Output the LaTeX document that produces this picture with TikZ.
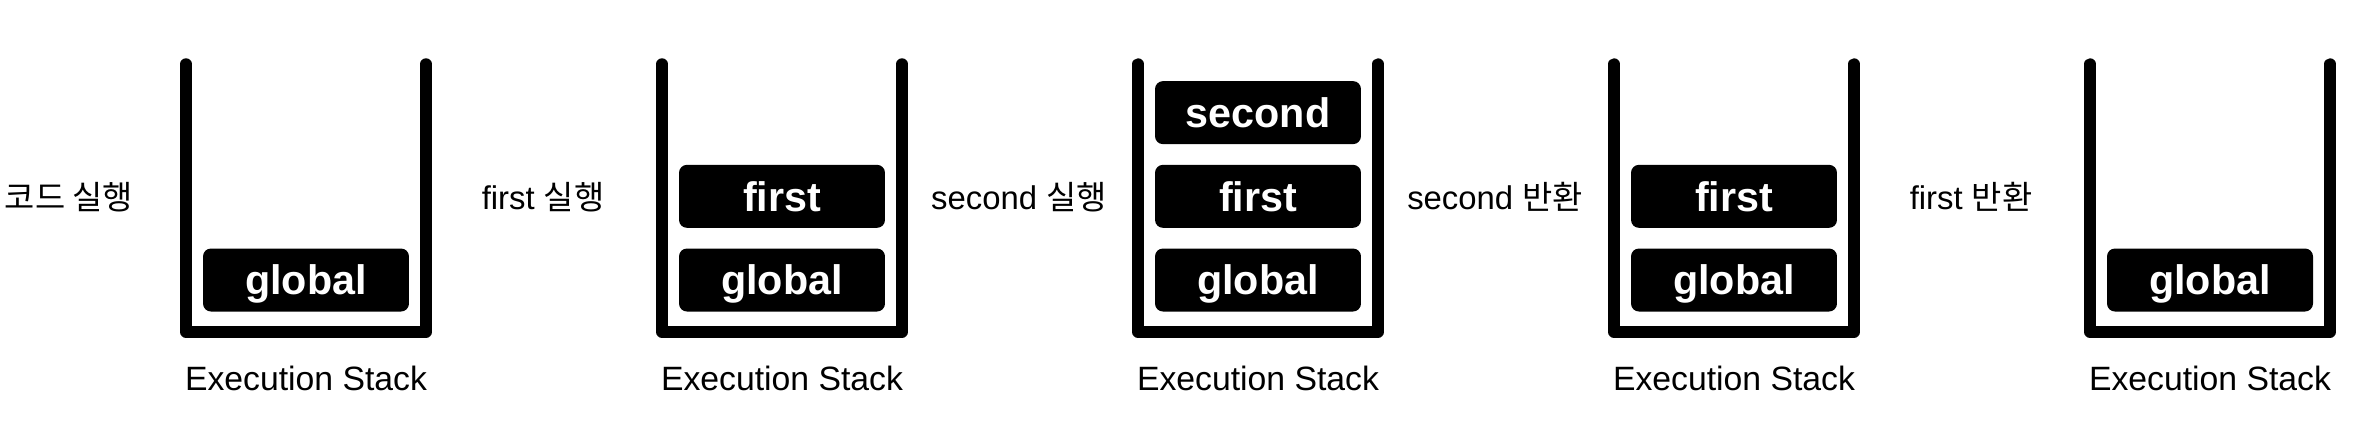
\documentclass[tikz,border=0pt]{standalone}
\usepackage{fontspec}
\setmainfont{Liberation Sans}
\newfontfamily\kr{Noto Sans CJK KR}
\usetikzlibrary{positioning}
\tikzset{
  stackframe/.style={draw=black, line width=6.5pt, line cap=round, line join=round},
  ctxbox/.style={
    fill=black, text=white, rounded corners=4.5pt,
    minimum width=4.12cm, minimum height=1.26cm, inner sep=0pt,
    text height=16.8pt, text depth=0pt,
    font=\fontsize{23.5}{26}\selectfont\bfseries
  },
  stackcaption/.style={font=\fontsize{19.2}{22}\selectfont},
  steplabel/.style={font=\fontsize{18.7}{22}\selectfont}
}

\begin{document}
\begin{tikzpicture}[x=0.02cm,y=-0.02cm]
  \useasboundingbox (0,0) rectangle (2374,424);
  % stack frames and captions
  \foreach \s/\cx in {1/306,2/782,3/1258,4/1734,5/2210}{
    \draw[stackframe] (\cx-120,64) -- (\cx-120,332) -- (\cx+120,332) -- (\cx+120,64);
    \node[stackcaption] (cap\s) at (\cx,378) {Execution Stack};
  }
  % contexts
  \node[ctxbox] (glob1) at (306,280) {global};
  \node[ctxbox] (glob2) at (782,280) {global};
  \node[ctxbox, above=0.4cm of glob2] (first2) {first};
  \node[ctxbox] (glob3) at (1258,280) {global};
  \node[ctxbox, above=0.4cm of glob3] (first3) {first};
  \node[ctxbox, above=0.4cm of first3] (second3) {second};
  \node[ctxbox] (glob4) at (1734,280) {global};
  \node[ctxbox, above=0.4cm of glob4] (first4) {first};
  \node[ctxbox] (glob5) at (2210,280) {global};
  % steps
  \node[steplabel] (run0) at (69,197) {{\kr 코드 실행}};
  \node[steplabel] (run1) at (543,197) {first {\kr 실행}};
  \node[steplabel] (run2) at (1019,197) {second {\kr 실행}};
  \node[steplabel] (ret2) at (1495,197) {second {\kr 반환}};
  \node[steplabel] (ret1) at (1971,197) {first {\kr 반환}};
\end{tikzpicture}
\end{document}
